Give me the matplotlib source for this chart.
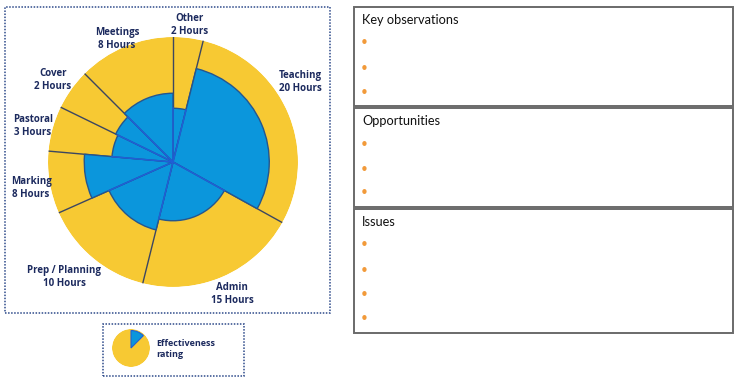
import matplotlib.pyplot as plt
import numpy as np
from matplotlib.patches import Rectangle

activities = ["Other", "Teaching", "Admin", "Prep / Planning", "Marking", "Pastoral", "Cover", "Meetings"]
hours = [2, 20, 15, 10, 8, 3, 2, 8]
# angular share of each slice as drawn (degrees, clockwise from top)
span_deg = [14, 105, 75, 52, 29, 21, 19, 45]
# effectiveness rating (fraction of full radius)
effectiveness = [0.43, 0.77, 0.47, 0.56, 0.71, 0.49, 0.51, 0.55]

legend_span_deg = [45]
legend_rating = [0.92]

box_titles = ["Key observations", "Opportunities", "Issues"]
box_bullets = [3, 3, 4]

YELLOW = "#f7c933"
BLUE = "#0b96dc"
NAVY = "#1c2a5e"
LINE = "#3c4660"
BLUE_EDGE = "#1f5fd6"
ARC = "#24568f"
ORANGE = "#f29a3a"

W, H = 740, 380
fig = plt.figure(figsize=(W / 100, H / 100), dpi=100)


def fx(px):
    return px / W


def fy(py):
    return 1 - py / H


def polar_axes(cx, cy, r):
    ax = fig.add_axes([fx(cx - r), fy(cy + r), 2 * r / W, 2 * r / H], projection="polar")
    ax.set_theta_zero_location("N")
    ax.set_theta_direction(-1)
    ax.set_ylim(0, 1)
    ax.set_axis_off()
    return ax


# main chart
ax = polar_axes(173, 162, 125)
widths = np.deg2rad(span_deg)
lefts = np.concatenate([[0], np.cumsum(widths)[:-1]])
ax.bar(lefts, 1, width=widths, align="edge", color=YELLOW, edgecolor="none", zorder=1)
for t in lefts:
    ax.plot([t, t], [0, 1], color=LINE, lw=1, zorder=2)
ax.bar(lefts, effectiveness, width=widths, align="edge", color=BLUE,
       edgecolor=ARC, linewidth=1, zorder=3)
for t, r0, r1 in zip(lefts, effectiveness, np.roll(effectiveness, 1)):
    ax.plot([t, t], [0, min(r0, r1)], color=BLUE_EDGE, lw=1.1, zorder=4)

label_pos = [(190, 25), (300, 82), (232, 294), (64, 277), (31, 188), (33, 126), (53, 80), (117, 39)]
for name, h, (px, py) in zip(activities, hours, label_pos):
    fig.text(fx(px), fy(py), f"{name}\n{h} Hours", ha="center", va="center",
             fontsize=7, fontweight="bold", color=NAVY, family="Open Sans", linespacing=1.25)

fig.patches.append(Rectangle((fx(5), fy(313)), fx(325), 306 / H, transform=fig.transFigure,
                             fill=False, edgecolor="#2e4a8a", lw=1.1, linestyle=(0, (1, 1))))

# legend
lax = polar_axes(131, 348, 19)
lax.bar(0, 1, width=2 * np.pi, align="edge", color=YELLOW, edgecolor="none")
lax.bar(0, legend_rating, width=np.deg2rad(legend_span_deg), align="edge", color=BLUE,
        edgecolor=BLUE_EDGE, linewidth=0.8)
fig.text(fx(156), fy(349), "Effectiveness\nrating", ha="left", va="center", fontsize=6.5,
         fontweight="bold", color=NAVY, family="Open Sans", linespacing=1.3)
fig.patches.append(Rectangle((fx(103), fy(376)), fx(141), 52 / H, transform=fig.transFigure,
                             fill=False, edgecolor="#2e4a8a", lw=1.1, linestyle=(0, (1, 1))))

# right-hand boxes
boxes = [(7, 106), (108, 207), (209, 333)]
bullet_ys = [[44, 69, 93], [145, 171, 194], [246, 272, 295, 320]]
for title, n, (top, bottom), ys in zip(box_titles, box_bullets, boxes, bullet_ys):
    fig.patches.append(Rectangle((fx(354), fy(bottom)), fx(379), (bottom - top) / H,
                                 transform=fig.transFigure, fill=False,
                                 edgecolor="#6a6a6a", lw=1.4))
    fig.text(fx(362), fy(top + 13), title, ha="left", va="center", fontsize=9.2,
             color="#111111", family="Lato")
    for y in ys[:n]:
        fig.text(fx(364), fy(y), "\u2022", ha="center", va="center", fontsize=11, color=ORANGE)

fig.savefig("out.png", dpi=100)
